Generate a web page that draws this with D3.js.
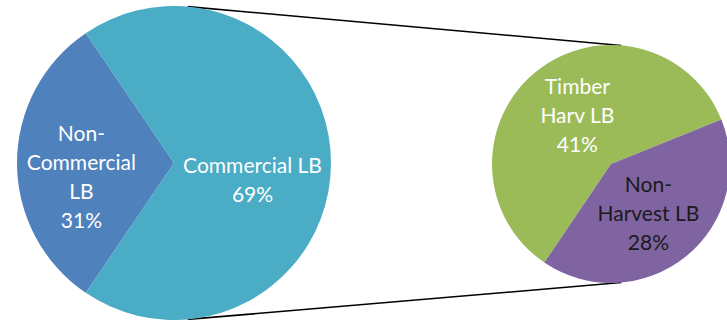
<!DOCTYPE html>
<html>
<head>
<meta charset="utf-8">
<script src="https://cdn.jsdelivr.net/npm/d3@7"></script>
<style>
  html, body { margin: 0; padding: 0; background: #fff; }
  svg { display: block; }
  .lbl { font-family: Lato, "Open Sans", sans-serif; font-size: 21px; text-anchor: middle; }
</style>
</head>
<body>
<div id="chart"></div>
<script>
// main pie
const mainLabels = [["Non-", "Commercial", "LB"], ["Commercial LB"]];
const mainValues = [31, 69];
const mainColors = ["#4f81bd", "#4bacc6"];

// secondary pie (split of Commercial LB)
const subLabels = [["Timber", "Harv LB"], ["Non-", "Harvest LB"]];
const subValues = [41, 28];
const subColors = ["#9bbb59", "#8064a2"];
const subText = ["#fff", "#1a1a1a"];

const width = 727;
const height = 320;

const svg = d3.select('#chart')
  .append('svg')
  .attr('width', width)
  .attr('height', height);

const main = { cx: 174, cy: 163, r: 157 };
const sub = { cx: 611, cy: 164, r: 119 };

// connector lines: outer tangents between the two circles
const dist = sub.cx - main.cx;
const t = Math.asin((main.r - sub.r) / dist);
[-1, 1].forEach(s => {
  svg.append('line')
    .attr('x1', main.cx + main.r * Math.sin(t))
    .attr('y1', main.cy + s * main.r * Math.cos(t))
    .attr('x2', sub.cx + sub.r * Math.sin(t))
    .attr('y2', sub.cy + s * sub.r * Math.cos(t))
    .style('stroke', '#000')
    .style('stroke-width', 1.6);
});

function drawPie(cfg, values, labels, colors, textColors, startDeg, labelFrac, dy) {
  const total = d3.sum(values);
  const start = startDeg * Math.PI / 180;
  const pie = d3.pie().sort(null).value(d => d)
    .startAngle(start).endAngle(start + 2 * Math.PI);
  const arcs = pie(values);
  const arc = d3.arc().innerRadius(0).outerRadius(cfg.r);

  const g = svg.append('g').attr('transform', `translate(${cfg.cx},${cfg.cy})`);
  g.selectAll('path')
    .data(arcs)
    .enter()
    .append('path')
    .attr('d', arc)
    .attr('fill', (d, i) => colors[i]);

  const lineH = 29;
  arcs.forEach((d, i) => {
    const lr = cfg.r * labelFrac[i];
    const [x, y] = d3.arc().innerRadius(lr).outerRadius(lr).centroid(d);
    const lines = labels[i].concat([d3.format('.0%')(d.data / total * cfg.share)]);
    const y0 = y + dy[i] - (lines.length - 1) * lineH / 2;
    const text = g.append('text')
      .attr('class', 'lbl')
      .attr('fill', textColors[i])
      .attr('dominant-baseline', 'central');
    lines.forEach((l, j) => {
      text.append('tspan').attr('x', x).attr('y', y0 + j * lineH).text(l);
    });
  });
}

// secondary pie percentages are of the whole
sub.share = d3.sum(subValues) / 100;
main.share = 1;

// Non-Commercial wedge centred on the left
const mainStart = 270 - mainValues[0] / d3.sum(mainValues) * 180;
drawPie(main, mainValues, mainLabels, mainColors, ["#fff", "#fff"], mainStart, [0.59, 0.5], [12, 15]);
drawPie(sub, subValues, subLabels, subColors, subText, 68 + subValues[1] / d3.sum(subValues) * 360, [0.45, 0.5], [-8, 2]);
</script>
</body>
</html>
